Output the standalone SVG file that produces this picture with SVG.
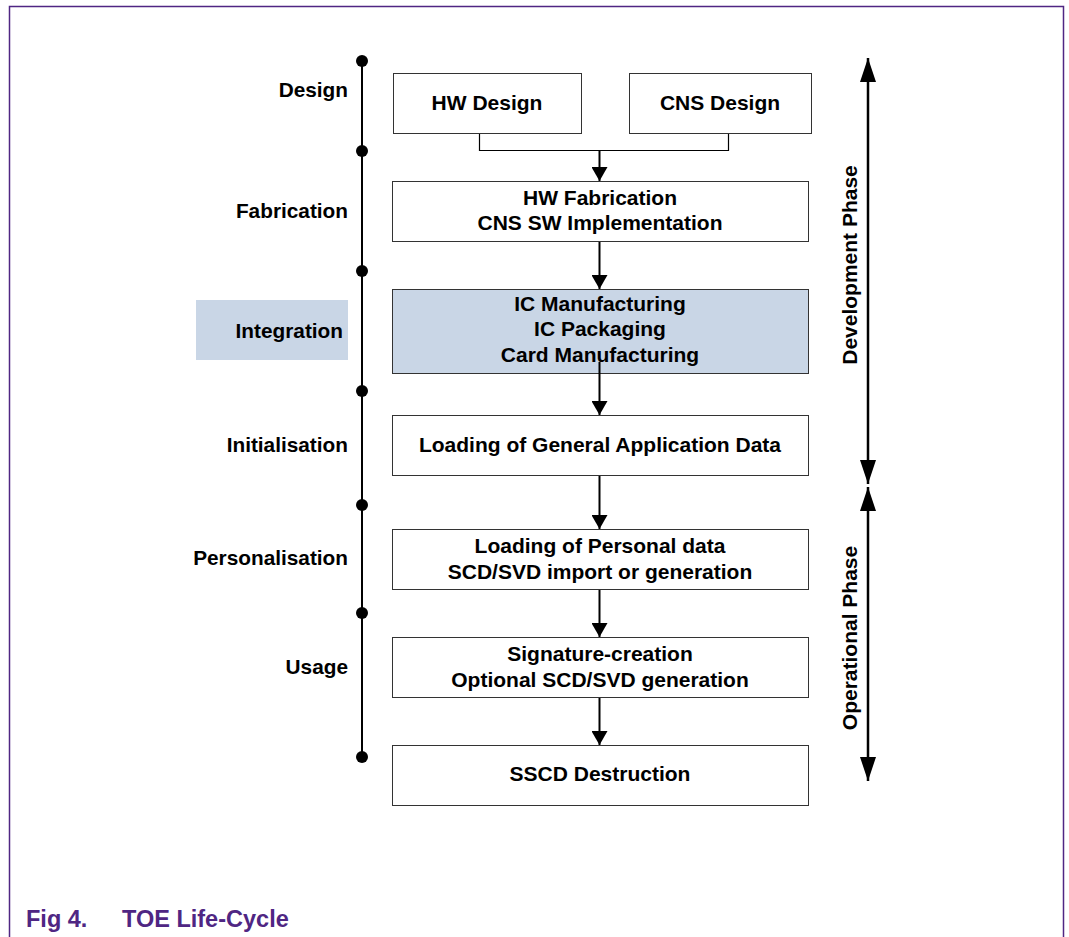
<svg xmlns="http://www.w3.org/2000/svg" width="1069" height="937" viewBox="0 0 1069 937">
<defs>
<marker id="ah" viewBox="0 0 10 10" refX="10" refY="5" markerWidth="14" markerHeight="16" markerUnits="userSpaceOnUse" orient="auto-start-reverse" preserveAspectRatio="none"><path d="M0,0 L10,5 L0,10 Z" fill="#000"/></marker>
<marker id="ahL" viewBox="0 0 10 10" refX="10" refY="5" markerWidth="24" markerHeight="16" markerUnits="userSpaceOnUse" orient="auto-start-reverse" preserveAspectRatio="none"><path d="M0,0 L10,5 L0,10 Z" fill="#000"/></marker>
</defs>
<style>
.box{fill:#fff;stroke:#333;stroke-width:1}
.hl{fill:#c9d6e6;stroke:#333;stroke-width:1}
.t{font-family:"Liberation Sans",Arial,sans-serif;font-weight:bold;font-size:21px;fill:#000;text-anchor:middle}
.lbl{font-family:"Liberation Sans",Arial,sans-serif;font-weight:bold;font-size:20.8px;fill:#000;text-anchor:end}
.cap{font-family:"Liberation Sans",Arial,sans-serif;font-weight:bold;font-size:23.5px;fill:#4f2683}
.ln{stroke:#000;stroke-width:2;fill:none}
.ar{stroke:#000;stroke-width:2;fill:none;marker-end:url(#ah)}
</style>
<rect width="1069" height="937" fill="#fff"/>
<path d="M9.5,937 V6.5 H1063.5 V937" fill="none" stroke="#4f2683" stroke-width="1.5"/>

<g id="timeline">
<line x1="362" y1="61" x2="362" y2="757" class="ln" stroke-width="3"/>
<circle cx="362" cy="61" r="6"/><circle cx="362" cy="151" r="6"/><circle cx="362" cy="271" r="6"/><circle cx="362" cy="391" r="6"/><circle cx="362" cy="505" r="6"/><circle cx="362" cy="613" r="6"/><circle cx="362" cy="757" r="6"/>
</g>

<g id="labels">
<text class="lbl" x="348" y="97">Design</text>
<text class="lbl" x="348" y="218">Fabrication</text>
<rect x="196" y="300" width="152" height="60" fill="#c9d6e6"/>
<text class="lbl" x="343" y="338">Integration</text>
<text class="lbl" x="348" y="452">Initialisation</text>
<text class="lbl" x="348" y="565">Personalisation</text>
<text class="lbl" x="348" y="674">Usage</text>
</g>

<g id="hw-design"><rect class="box" x="393.5" y="73.5" width="188" height="60"/><text class="t" x="487" y="110">HW Design</text></g>
<g id="cns-design"><rect class="box" x="629.5" y="73.5" width="182" height="60"/><text class="t" x="720" y="110">CNS Design</text></g>
<g id="fabrication"><rect class="box" x="392.5" y="181.5" width="416" height="60"/><text class="t" x="600" y="205">HW Fabrication</text><text class="t" x="600" y="230">CNS SW Implementation</text></g>
<g id="integration"><rect class="hl" x="392.5" y="289.5" width="416" height="84"/><text class="t" x="600" y="311">IC Manufacturing</text><text class="t" x="600" y="336">IC Packaging</text><text class="t" x="600" y="362">Card Manufacturing</text></g>
<g id="initialisation"><rect class="box" x="392.5" y="415.5" width="416" height="60"/><text class="t" x="600" y="452">Loading of General Application Data</text></g>
<g id="personalisation"><rect class="box" x="392.5" y="529.5" width="416" height="60"/><text class="t" x="600" y="553">Loading of Personal data</text><text class="t" x="600" y="579">SCD/SVD import or generation</text></g>
<g id="usage"><rect class="box" x="392.5" y="637.5" width="416" height="60"/><text class="t" x="600" y="661">Signature-creation</text><text class="t" x="600" y="687">Optional SCD/SVD generation</text></g>
<g id="destruction"><rect class="box" x="392.5" y="745.5" width="416" height="60"/><text class="t" x="600" y="781">SSCD Destruction</text></g>

<g id="connectors">
<path d="M479.5,134 V150.5 H728.5 V134" fill="none" stroke="#000" stroke-width="1.2"/>
<line class="ar" x1="599.5" y1="150" x2="599.5" y2="181"/>
<line class="ar" x1="599.5" y1="242" x2="599.5" y2="289"/>
<line class="ar" x1="599.5" y1="362" x2="599.5" y2="415"/>
<line class="ar" x1="599.5" y1="476" x2="599.5" y2="529"/>
<line class="ar" x1="599.5" y1="590" x2="599.5" y2="637"/>
<line class="ar" x1="599.5" y1="698" x2="599.5" y2="745"/>
</g>

<g id="phases">
<line x1="868" y1="58" x2="868" y2="484" stroke="#000" stroke-width="2.5" marker-start="url(#ahL)" marker-end="url(#ahL)"/>
<line x1="868" y1="487" x2="868" y2="781" stroke="#000" stroke-width="2.5" marker-start="url(#ahL)" marker-end="url(#ahL)"/>
<text class="t" transform="translate(857,265) rotate(-90)">Development Phase</text>
<text class="t" transform="translate(857,638) rotate(-90)">Operational Phase</text>
</g>

<g id="caption">
<text class="cap" x="26" y="927">Fig 4.</text>
<text class="cap" x="122" y="927">TOE Life-Cycle</text>
</g>
</svg>
